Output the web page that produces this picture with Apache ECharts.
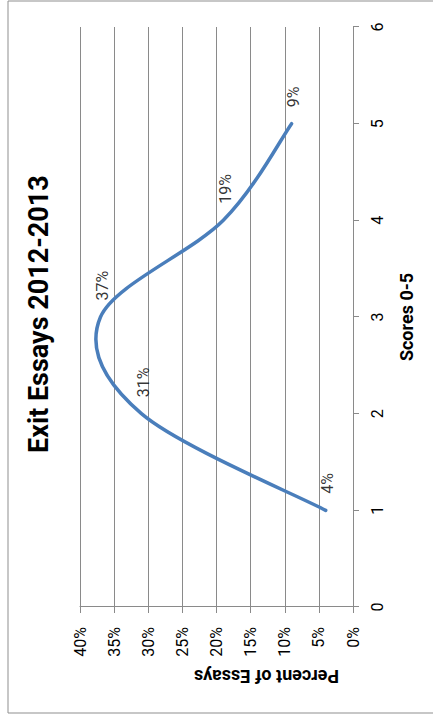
<!DOCTYPE html>
<html>
<head>
<meta charset="utf-8">
<script src="https://cdn.jsdelivr.net/npm/echarts@6/dist/echarts.min.js"></script>
<style>
  html, body { margin: 0; padding: 0; background: #fff; width: 433px; height: 715px; overflow: hidden; }
  /* The chart is laid out landscape (715 x 433) and turned a quarter turn counter-clockwise. */
  #chart {
    position: absolute; left: 0; top: 0;
    width: 715px; height: 433px;
    transform-origin: 0 0;
    transform: translate(0, 715px) rotate(-90deg);
  }
</style>
</head>
<body>
<div id="chart"></div>
<script>
// Score categories and share of essays (percent) at each score
const scores = [1, 2, 3, 4, 5];
const percents = [4, 31, 37, 19, 9];

// Axis ranges and tick steps
const scoreAxisRange = [0, 6];
const scoreStep = 1;
const percentAxisRange = [0, 40];
const percentStep = 5;

const FONT = 'Roboto';
const GRID_GREY = '#8a8a8a';
const LINE_BLUE = '#4A7EBB';
const TEXT = '#000';

const points = scores.map((s, i) => [s, percents[i]]);

// Smooth curve through the points (uniform Catmull-Rom as cubic Beziers),
// positioned with the grid's own coordinate conversion.
function renderCurve(params, api) {
  if (params.dataIndex !== 0) return null;
  const c = points.map(p => api.coord(p));
  const n = c.length;
  let d = 'M' + c[0][0] + ' ' + c[0][1];
  for (let i = 0; i < n - 1; i++) {
    const p0 = c[Math.max(i - 1, 0)];
    const p1 = c[i];
    const p2 = c[i + 1];
    const p3 = c[Math.min(i + 2, n - 1)];
    const c1x = p1[0] + (p2[0] - p0[0]) / 6;
    const c1y = p1[1] + (p2[1] - p0[1]) / 6;
    const c2x = p2[0] - (p3[0] - p1[0]) / 6;
    const c2y = p2[1] - (p3[1] - p1[1]) / 6;
    d += ' C' + c1x + ' ' + c1y + ' ' + c2x + ' ' + c2y + ' ' + p2[0] + ' ' + p2[1];
  }
  return {
    type: 'path',
    shape: { pathData: d },
    style: { fill: 'none', stroke: LINE_BLUE, lineWidth: 3.5, lineCap: 'round', lineJoin: 'round' }
  };
}

const chart = echarts.init(document.getElementById('chart'), null, {
  renderer: 'svg', width: 715, height: 433
});

chart.setOption({
  backgroundColor: '#ffffff',
  animation: false,
  title: {
    text: 'Exit Essays 2012-2013',
    left: 262,
    top: 25,
    padding: 0,
    textStyle: { fontFamily: FONT, fontWeight: 'bold', fontSize: 27, color: TEXT }
  },
  graphic: [{
    type: 'rect',
    shape: { x: 2, y: 8, width: 712, height: 440 },
    style: { fill: 'none', stroke: '#8f8f8f', lineWidth: 1 },
    silent: true
  }],
  grid: { left: 108, right: 27, top: 80, bottom: 80, containLabel: false },
  xAxis: {
    type: 'value',
    min: scoreAxisRange[0],
    max: scoreAxisRange[1],
    interval: scoreStep,
    name: 'Scores 0-5',
    nameLocation: 'middle',
    nameGap: 44,
    nameTextStyle: { fontFamily: FONT, fontWeight: 'bold', fontSize: 18, color: TEXT },
    axisLine: { show: true, lineStyle: { color: GRID_GREY, width: 1 } },
    axisTick: { show: true, length: 6, lineStyle: { color: GRID_GREY } },
    axisLabel: { margin: 16, fontFamily: FONT, fontSize: 16, color: TEXT },
    splitLine: { show: false }
  },
  yAxis: {
    type: 'value',
    min: percentAxisRange[0],
    max: percentAxisRange[1],
    interval: percentStep,
    name: 'Percent of Essays',
    nameLocation: 'middle',
    nameGap: 58,
    nameTextStyle: { fontFamily: FONT, fontWeight: 'bold', fontSize: 18, color: TEXT, padding: [0, 100, 0, 0] },
    axisLine: { show: true, lineStyle: { color: GRID_GREY, width: 1 } },
    axisTick: { show: true, length: 6, lineStyle: { color: GRID_GREY } },
    axisLabel: { margin: 20, fontFamily: FONT, fontSize: 16, color: TEXT, formatter: '{value}%' },
    splitLine: { show: true, lineStyle: { color: GRID_GREY, width: 1 } }
  },
  series: [
    {
      type: 'custom',
      renderItem: renderCurve,
      data: points,
      clip: false,
      silent: true
    },
    {
      // value labels at each point
      type: 'scatter',
      data: points,
      symbol: 'circle',
      symbolSize: 1,
      itemStyle: { color: LINE_BLUE },
      label: {
        show: true,
        position: 'right',
        distance: 16,
        offset: [0, 2],
        fontFamily: FONT,
        fontSize: 16,
        color: TEXT,
        formatter: p => p.value[1] + '%'
      },
      silent: true
    }
  ]
});
</script>
</body>
</html>
